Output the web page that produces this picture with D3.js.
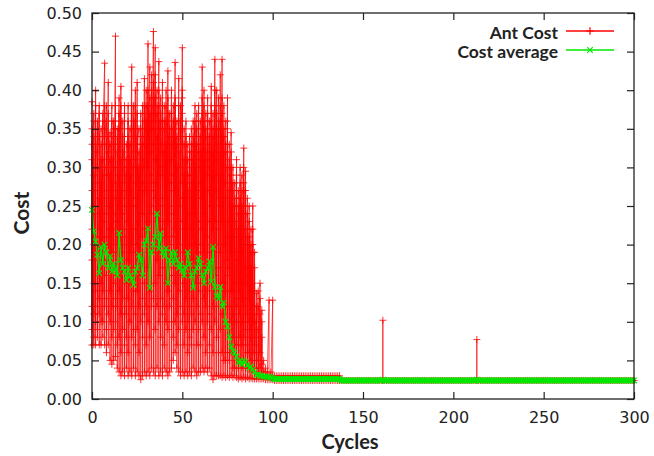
<!DOCTYPE html>
<html>
<head>
<meta charset="utf-8">
<script src="https://cdn.jsdelivr.net/npm/d3@7"></script>
<style>
  body { margin: 0; background: white; }
  svg { display: block; }
</style>
</head>
<body>
<div id="visualization"></div>
<script>
// cost of every ant, one row per cycle (row index = cycle)
let antCost = [
  [.385,.07,.31,.22,.12,.35,.18,.27,.09,.33],
  [.37,.08,.25,.34,.15,.29,.11,.2,.36,.07],
  [.40,.07,.3,.18,.38,.24,.1,.33,.14,.28],
  [.36,.09,.21,.32,.12,.27,.35,.08,.19,.3],
  [.38,.07,.34,.16,.26,.11,.37,.22,.3,.13],
  [.35,.1,.28,.19,.33,.07,.24,.31,.15,.21],
  [.37,.08,.31,.14,.36,.23,.1,.29,.18,.34],
  [.435,.07,.35,.2,.38,.12,.3,.26,.16,.33],
  [.38,.06,.27,.33,.13,.36,.21,.09,.3,.24],
  [.41,.07,.32,.18,.37,.25,.11,.34,.2,.29],
  [.345,.05,.29,.17,.33,.1,.25,.31,.14,.22],
  [.38,.045,.31,.22,.36,.12,.28,.08,.34,.19],
  [.36,.05,.26,.33,.15,.3,.09,.35,.2,.24],
  [.47,.055,.38,.27,.35,.13,.3,.19,.36,.1],
  [.35,.04,.28,.16,.32,.23,.07,.34,.12,.26],
  [.39,.035,.33,.21,.37,.14,.29,.08,.35,.25],
  [.405,.03,.36,.24,.31,.11,.38,.19,.27,.06],
  [.36,.035,.3,.17,.34,.22,.09,.32,.13,.26],
  [.38,.03,.35,.2,.28,.37,.12,.31,.07,.24],
  [.33,.04,.27,.15,.31,.21,.08,.29,.11,.25],
  [.38,.03,.34,.23,.36,.13,.3,.18,.33,.06],
  [.35,.035,.29,.19,.33,.1,.27,.31,.15,.22],
  [.43,.03,.37,.25,.35,.12,.38,.2,.3,.08],
  [.38,.04,.32,.17,.36,.22,.09,.34,.14,.28],
  [.40,.03,.35,.26,.38,.11,.31,.19,.36,.07],
  [.41,.035,.34,.2,.37,.14,.3,.25,.09,.33],
  [.35,.03,.29,.18,.32,.23,.06,.3,.12,.27],
  [.37,.025,.33,.21,.35,.1,.28,.16,.34,.24],
  [.38,.03,.31,.24,.36,.13,.27,.08,.33,.19],
  [.415,.035,.37,.22,.34,.15,.38,.28,.11,.3],
  [.40,.03,.36,.27,.38,.12,.33,.2,.35,.07],
  [.46,.035,.4,.3,.38,.17,.36,.23,.1,.34],
  [.43,.03,.37,.24,.39,.14,.35,.29,.08,.32],
  [.42,.04,.38,.28,.35,.19,.4,.12,.33,.25],
  [.476,.035,.41,.33,.38,.21,.36,.13,.39,.27],
  [.455,.03,.39,.26,.42,.15,.35,.31,.09,.37],
  [.40,.04,.34,.23,.37,.12,.31,.38,.18,.28],
  [.437,.03,.38,.29,.4,.16,.35,.22,.36,.1],
  [.39,.035,.33,.21,.36,.13,.3,.37,.08,.26],
  [.41,.03,.35,.25,.38,.17,.32,.11,.36,.22],
  [.38,.04,.32,.19,.35,.12,.29,.36,.23,.07],
  [.40,.035,.36,.26,.33,.15,.38,.21,.31,.1],
  [.425,.03,.37,.23,.39,.14,.34,.28,.36,.09],
  [.37,.035,.31,.2,.34,.12,.28,.35,.17,.25],
  [.40,.04,.35,.24,.37,.16,.31,.1,.33,.27],
  [.38,.05,.33,.21,.36,.13,.29,.35,.18,.08],
  [.436,.06,.38,.27,.36,.15,.34,.22,.39,.1],
  [.36,.04,.3,.18,.33,.11,.27,.34,.21,.07],
  [.415,.035,.36,.25,.38,.14,.32,.2,.35,.09],
  [.38,.03,.33,.22,.36,.12,.3,.17,.34,.26],
  [.455,.035,.39,.28,.37,.16,.35,.23,.4,.1],
  [.35,.03,.29,.19,.33,.11,.26,.31,.15,.07],
  [.36,.035,.31,.22,.34,.13,.28,.09,.33,.18],
  [.33,.03,.27,.18,.31,.1,.24,.29,.14,.06],
  [.34,.035,.29,.2,.32,.12,.26,.31,.16,.08],
  [.35,.03,.3,.17,.33,.11,.27,.22,.32,.07],
  [.36,.04,.31,.21,.34,.13,.28,.09,.33,.18],
  [.38,.035,.33,.24,.36,.15,.3,.2,.35,.1],
  [.37,.03,.32,.19,.35,.12,.27,.33,.16,.07],
  [.38,.035,.34,.23,.36,.14,.31,.09,.33,.26],
  [.36,.035,.3,.2,.34,.11,.28,.32,.15,.07],
  [.43,.04,.37,.26,.35,.16,.39,.22,.32,.1],
  [.40,.035,.35,.24,.38,.13,.31,.19,.36,.08],
  [.37,.04,.32,.21,.35,.12,.29,.34,.17,.06],
  [.39,.035,.34,.23,.37,.14,.3,.1,.36,.27],
  [.36,.04,.31,.19,.34,.11,.27,.33,.15,.07],
  [.405,.03,.36,.25,.38,.15,.32,.2,.35,.09],
  [.37,.025,.32,.22,.35,.12,.29,.34,.17,.06],
  [.44,.03,.38,.27,.4,.16,.35,.23,.37,.1],
  [.40,.03,.35,.2,.37,.13,.31,.08,.34,.26],
  [.39,.03,.33,.22,.36,.12,.29,.35,.17,.06],
  [.42,.03,.36,.25,.38,.14,.32,.19,.35,.09],
  [.44,.028,.37,.23,.39,.15,.34,.29,.11,.06],
  [.38,.03,.32,.2,.35,.11,.28,.34,.15,.05],
  [.36,.028,.3,.18,.33,.1,.26,.32,.14,.05],
  [.39,.03,.33,.21,.36,.12,.28,.35,.16,.06],
  [.33,.028,.27,.17,.3,.09,.23,.31,.12,.05],
  [.345,.03,.29,.19,.32,.1,.25,.14,.3,.06],
  [.30,.028,.25,.14,.28,.08,.21,.27,.11,.04],
  [.28,.03,.23,.12,.26,.07,.19,.25,.1,.04],
  [.31,.028,.26,.15,.29,.08,.22,.13,.27,.05],
  [.27,.026,.22,.12,.25,.07,.18,.24,.1,.04],
  [.30,.028,.25,.14,.28,.08,.21,.11,.26,.05],
  [.29,.026,.24,.13,.27,.07,.19,.25,.1,.04],
  [.325,.028,.27,.15,.3,.08,.22,.12,.28,.05],
  [.295,.026,.24,.13,.27,.07,.2,.25,.1,.04],
  [.26,.028,.21,.11,.24,.06,.17,.22,.09,.04],
  [.25,.026,.2,.1,.23,.06,.16,.13,.21,.04],
  [.22,.027,.17,.09,.2,.05,.14,.19,.08,.035],
  [.25,.026,.19,.1,.22,.06,.15,.12,.2,.04],
  [.19,.026,.14,.07,.17,.05,.11,.04],
  [.137,.026,.1,.06,.12,.04,.08],
  [.14,.026,.09,.05,.12,.035],
  [.15,.026,.11,.06,.13,.04],
  [.115,.026,.08,.045,.1,.035],
  [.05,.026,.035],
  [.04,.025,.03],
  [.035,.025],
  [.128,.025,.03],
  [.035,.025],
  [.128,.025,.03],
  // 101 - 137
  [.024,.03],[.024,.03],[.024,.03],[.024,.03],[.024,.03],[.024,.03],[.024,.03],[.024,.03],[.024,.03],[.024,.03],
  [.024,.03],[.024,.03],[.024,.03],[.024,.03],[.024,.03],[.024,.03],[.024,.03],[.024,.03],[.024,.03],[.024,.03],
  [.024,.03],[.024,.03],[.024,.03],[.024,.03],[.024,.03],[.024,.03],[.024,.03],[.024,.03],[.024,.03],[.024,.03],
  [.024,.03],[.024,.03],[.024,.03],[.024,.03],[.024,.03],[.024,.03],[.024,.03],
  // 138 - 160
  [.024],[.024],[.024],
  [.024],[.024],[.024],[.024],[.024],[.024],[.024],[.024],[.024],[.024],
  [.024],[.024],[.024],[.024],[.024],[.024],[.024],[.024],[.024],[.024],
  // 161
  [.024,.102,.024],
  // 162 - 212
  [.024],[.024],[.024],[.024],[.024],[.024],[.024],[.024],[.024],
  [.024],[.024],[.024],[.024],[.024],[.024],[.024],[.024],[.024],[.024],
  [.024],[.024],[.024],[.024],[.024],[.024],[.024],[.024],[.024],[.024],
  [.024],[.024],[.024],[.024],[.024],[.024],[.024],[.024],[.024],[.024],
  [.024],[.024],[.024],[.024],[.024],[.024],[.024],[.024],[.024],[.024],
  [.024],[.024],
  // 213
  [.024,.077,.024],
  // 214 - 300
  [.024],[.024],[.024],[.024],[.024],[.024],[.024],
  [.024],[.024],[.024],[.024],[.024],[.024],[.024],[.024],[.024],[.024],
  [.024],[.024],[.024],[.024],[.024],[.024],[.024],[.024],[.024],[.024],
  [.024],[.024],[.024],[.024],[.024],[.024],[.024],[.024],[.024],[.024],
  [.024],[.024],[.024],[.024],[.024],[.024],[.024],[.024],[.024],[.024],
  [.024],[.024],[.024],[.024],[.024],[.024],[.024],[.024],[.024],[.024],
  [.024],[.024],[.024],[.024],[.024],[.024],[.024],[.024],[.024],[.024],
  [.024],[.024],[.024],[.024],[.024],[.024],[.024],[.024],[.024],[.024],
  [.024],[.024],[.024],[.024],[.024],[.024],[.024],[.024],[.024],[.024]
];

// average cost per cycle (index = cycle)
let avgCost = [
  .245,.217,.204,.187,.163,.197,.175,.2,.19,.17,
  .185,.165,.175,.168,.16,.215,.18,.17,.165,.154,
  .17,.16,.155,.148,.165,.17,.187,.18,.16,.2,
  .205,.221,.144,.19,.2,.21,.24,.195,.214,.19,
  .185,.195,.15,.18,.19,.175,.19,.18,.17,.175,
  .167,.16,.17,.19,.175,.16,.144,.165,.17,.182,
  .175,.16,.15,.165,.17,.178,.152,.197,.145,.133,
  .13,.145,.12,.125,.1,.094,.08,.068,.062,.06,
  .055,.047,.05,.045,.05,.048,.044,.04,.042,.038,
  .035,.031,.032,.03,.03,.029,.029,.028,.029,.028,
  .027,
  // 101 - 137
  .026,.026,.026,.026,.026,.026,.026,.026,.026,.026,
  .026,.026,.026,.026,.026,.026,.026,.026,.026,.026,
  .026,.026,.026,.026,.026,.026,.026,.026,.026,.026,
  .026,.026,.026,.026,.026,.026,.026,
  // 138 - 160
  .024,.024,.024,
  .024,.024,.024,.024,.024,.024,.024,.024,.024,.024,
  .024,.024,.024,.024,.024,.024,.024,.024,.024,.024,
  // 161
  .025,
  // 162 - 212
  .024,.024,.024,.024,.024,.024,.024,.024,.024,
  .024,.024,.024,.024,.024,.024,.024,.024,.024,.024,
  .024,.024,.024,.024,.024,.024,.024,.024,.024,.024,
  .024,.024,.024,.024,.024,.024,.024,.024,.024,.024,
  .024,.024,.024,.024,.024,.024,.024,.024,.024,.024,
  .024,.024,
  // 213
  .025,
  // 214 - 300
  .024,.024,.024,.024,.024,.024,.024,
  .024,.024,.024,.024,.024,.024,.024,.024,.024,.024,
  .024,.024,.024,.024,.024,.024,.024,.024,.024,.024,
  .024,.024,.024,.024,.024,.024,.024,.024,.024,.024,
  .024,.024,.024,.024,.024,.024,.024,.024,.024,.024,
  .024,.024,.024,.024,.024,.024,.024,.024,.024,.024,
  .024,.024,.024,.024,.024,.024,.024,.024,.024,.024,
  .024,.024,.024,.024,.024,.024,.024,.024,.024,.024,
  .024,.024,.024,.024,.024,.024,.024,.024,.024,.024
];

let xTicks = [0, 50, 100, 150, 200, 250, 300];
let yTicks = [0, 0.05, 0.10, 0.15, 0.20, 0.25, 0.30, 0.35, 0.40, 0.45, 0.50];
let seriesNames = ["Ant Cost", "Cost average"];

let w = 654, h = 456;
let padLeft = 92, padRight = 634, padTop = 13, padBottom = 399;
let red = "#ff0000", green = "#00e800", ink = "#222";

let viz = d3.select("#visualization")
  .append("svg")
    .attr("width", w)
    .attr("height", h)
;

let xScale = d3.scaleLinear().domain([0, 300]).range([padLeft, padRight]);
let yScale = d3.scaleLinear().domain([0, 0.5]).range([padBottom, padTop]);

// flatten the per-cycle rows into points, in file order
let antPoints = [];
antCost.forEach(function(row, cycle){
  row.forEach(function(v){
    antPoints.push({cycle: cycle, cost: v});
  });
});
let avgPoints = avgCost.map(function(v, cycle){
  return {cycle: cycle, cost: v};
});

let line = d3.line()
  .x(function(d){ return xScale(d.cycle); })
  .y(function(d){ return yScale(d.cost); })
;

function plus(s){ return "M" + (-s) + ",0H" + s + "M0," + (-s) + "V" + s; }
function cross(s){ return "M" + (-s) + "," + (-s) + "L" + s + "," + s + "M" + (-s) + "," + s + "L" + s + "," + (-s); }

// ant cost
viz.append("path")
  .datum(antPoints)
  .attr("d", line)
  .attr("fill", "none")
  .attr("stroke", red)
  .attr("stroke-width", 0.7)
;
viz.append("g").selectAll("path")
  .data(antPoints)
  .enter()
  .append("path")
    .attr("transform", function(d){ return "translate(" + xScale(d.cycle) + "," + yScale(d.cost) + ")"; })
    .attr("d", plus(3.5))
    .attr("stroke", red)
    .attr("stroke-width", 0.8)
;

// cost average
viz.append("path")
  .datum(avgPoints)
  .attr("d", line)
  .attr("fill", "none")
  .attr("stroke", green)
  .attr("stroke-width", 1.3)
;
viz.append("g").selectAll("path")
  .data(avgPoints)
  .enter()
  .append("path")
    .attr("transform", function(d){ return "translate(" + xScale(d.cycle) + "," + yScale(d.cost) + ")"; })
    .attr("d", cross(2.8))
    .attr("stroke", green)
    .attr("stroke-width", 1.2)
;

// axes, ticks pointing inward on all four sides
let tickFont = "'DejaVu Sans', sans-serif";

let xAxisGroup = viz.append("g")
  .attr("transform", "translate(0," + padBottom + ")")
  .call(d3.axisBottom(xScale).tickValues(xTicks).tickSizeInner(-7).tickSizeOuter(0).tickPadding(13));
let xTopGroup = viz.append("g")
  .attr("transform", "translate(0," + padTop + ")")
  .call(d3.axisTop(xScale).tickValues(xTicks).tickSizeInner(-7).tickSizeOuter(0).tickFormat(""));
let yAxisGroup = viz.append("g")
  .attr("transform", "translate(" + padLeft + ",0)")
  .call(d3.axisLeft(yScale).tickValues(yTicks).tickSizeInner(-7).tickSizeOuter(0).tickPadding(10).tickFormat(d3.format(".2f")));
let yRightGroup = viz.append("g")
  .attr("transform", "translate(" + padRight + ",0)")
  .call(d3.axisRight(yScale).tickValues(yTicks).tickSizeInner(-7).tickSizeOuter(0).tickFormat(""));

[xAxisGroup, xTopGroup, yAxisGroup, yRightGroup].forEach(function(g){
  g.select(".domain").remove();
  g.selectAll(".tick line").attr("stroke", ink).attr("stroke-width", 1.2);
  g.selectAll(".tick text")
    .attr("fill", ink)
    .style("font-family", tickFont)
    .style("font-size", "16px");
});

viz.append("rect")
  .attr("x", padLeft)
  .attr("y", padTop)
  .attr("width", padRight - padLeft)
  .attr("height", padBottom - padTop)
  .attr("fill", "none")
  .attr("stroke", ink)
  .attr("stroke-width", 1.3)
;

// axis titles
let labelFont = "Lato, 'Open Sans', sans-serif";
viz.append("text")
  .text("Cycles")
  .attr("x", 350)
  .attr("y", 449)
  .attr("text-anchor", "middle")
  .style("font-family", labelFont)
  .style("font-weight", "bold")
  .style("font-size", "20px")
  .attr("fill", ink)
;
viz.append("text")
  .text("Cost")
  .attr("transform", "translate(29,213) rotate(-90)")
  .attr("text-anchor", "middle")
  .style("font-family", labelFont)
  .style("font-weight", "bold")
  .style("font-size", "21px")
  .attr("fill", ink)
;

// legend
let legendColors = [red, green];
let legend = viz.append("g").selectAll("g")
  .data(seriesNames)
  .enter()
  .append("g")
    .attr("transform", function(d, i){ return "translate(0," + (31 + i * 19) + ")"; })
;
legend.append("text")
  .text(function(d){ return d; })
  .attr("x", 558)
  .attr("y", 2)
  .attr("dy", "0.32em")
  .attr("text-anchor", "end")
  .style("font-family", labelFont)
  .style("font-weight", "bold")
  .style("font-size", "17.5px")
  .attr("fill", ink)
;
legend.append("line")
  .attr("x1", 566)
  .attr("x2", 614)
  .attr("stroke", function(d, i){ return legendColors[i]; })
  .attr("stroke-width", 1.3)
;
legend.append("path")
  .attr("transform", "translate(590,0)")
  .attr("d", function(d, i){ return i == 0 ? plus(3.8) : cross(2.8); })
  .attr("stroke", function(d, i){ return legendColors[i]; })
  .attr("stroke-width", 1.2)
;
</script>
</body>
</html>
